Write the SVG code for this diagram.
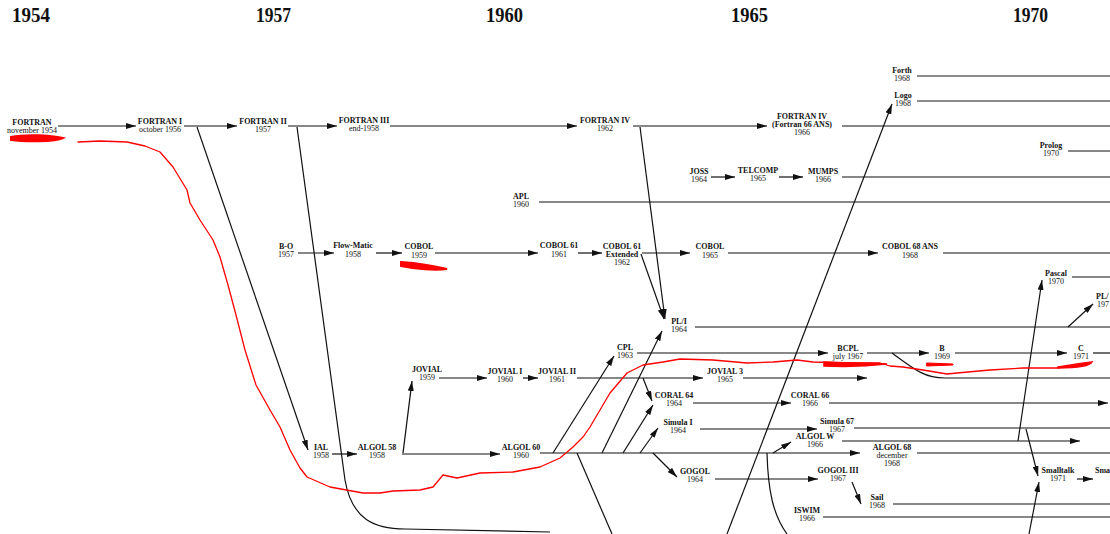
<svg xmlns="http://www.w3.org/2000/svg" width="1110" height="534" viewBox="0 0 1110 534">
<style>
text{font-family:"Liberation Serif","Times New Roman",serif;fill:#111;text-anchor:middle}
.n{font-size:8px;font-weight:bold}
.y{font-size:8px}
.h{font-size:20px;font-weight:bold;text-anchor:start}
.c line,.c path{stroke:#111;stroke-width:1.2;fill:none}
.c .a{marker-end:url(#ah)}
.c .g{stroke:#666;stroke-width:1.5}
.red{stroke:#ff0000;fill:none;stroke-width:1.3;stroke-linejoin:round;stroke-linecap:round}
.rb{fill:#ff0000;stroke:#ff0000;stroke-linecap:round}
</style>
<defs>
<marker id="ah" markerUnits="userSpaceOnUse" markerWidth="10" markerHeight="6" refX="10" refY="3" orient="auto">
<path d="M0,0 L10,3 L0,6 z" fill="#111"/>
</marker>
</defs>
<rect width="1110" height="534" fill="#fff"/>
<g id="years">
<text class="h" x="12" y="22" textLength="38" lengthAdjust="spacingAndGlyphs">1954</text>
<text class="h" x="256" y="22" textLength="35" lengthAdjust="spacingAndGlyphs">1957</text>
<text class="h" x="486" y="22" textLength="37" lengthAdjust="spacingAndGlyphs">1960</text>
<text class="h" x="731" y="22" textLength="37" lengthAdjust="spacingAndGlyphs">1965</text>
<text class="h" x="1013" y="22" textLength="35" lengthAdjust="spacingAndGlyphs">1970</text>
</g>
<g id="connectors" class="c">
<!-- FORTRAN row -->
<line class="a" x1="58" y1="126" x2="136" y2="126"/>
<line class="a" x1="184" y1="126" x2="237" y2="126"/>
<line class="a" x1="288" y1="126" x2="337" y2="126"/>
<line class="a" x1="390" y1="126" x2="577" y2="126"/>
<line class="a" x1="633" y1="126" x2="767" y2="126"/>
<line x1="842" y1="126" x2="1110" y2="126"/>
<line class="a" x1="197" y1="127" x2="308" y2="450"/>
<path d="M297,127 L345,480 C352,520 375,529 405,529 L550,532"/>
<line class="a" x1="640" y1="127" x2="665" y2="319"/>
<!-- COBOL row -->
<line class="a" x1="298" y1="253" x2="334" y2="253"/>
<line class="a" x1="376" y1="253" x2="402" y2="253"/>
<line class="a" x1="435" y1="253" x2="538" y2="253"/>
<line class="a" x1="578" y1="253" x2="602" y2="253"/>
<line class="a" x1="642" y1="253" x2="690" y2="253"/>
<line class="a" x1="728" y1="253" x2="878" y2="253"/>
<line x1="943" y1="253" x2="1110" y2="253"/>
<line class="a" x1="641" y1="254" x2="664" y2="319"/>
<!-- APL -->
<line x1="539" y1="202" x2="1110" y2="202"/>
<!-- JOSS row -->
<line class="a" x1="711" y1="177" x2="735" y2="177"/>
<line class="a" x1="779" y1="177" x2="803" y2="177"/>
<line x1="842" y1="177" x2="1110" y2="177"/>
<!-- Forth, Logo, Prolog -->
<line class="g" x1="917" y1="76" x2="1110" y2="76"/>
<line class="g" x1="917" y1="101" x2="1110" y2="101"/>
<line x1="1068" y1="151" x2="1110" y2="151"/>
<line class="a" x1="727" y1="534" x2="892" y2="104"/>
<!-- PL/I, Pascal -->
<line x1="695" y1="327" x2="1110" y2="327"/>
<line x1="1072" y1="277" x2="1110" y2="277"/>
<line class="a" x1="1018" y1="441" x2="1042" y2="280"/>
<line class="a" x1="1068" y1="327" x2="1093" y2="304"/>
<!-- CPL row -->
<line class="a" x1="637" y1="353" x2="828" y2="353"/>
<line class="a" x1="867" y1="353" x2="929" y2="353"/>
<line class="a" x1="955" y1="353" x2="1067" y2="353"/>
<line x1="1093" y1="353" x2="1110" y2="353"/>
<path d="M892,353 C915,370 925,378 945,378 L1110,378"/>
<!-- JOVIAL row -->
<line class="a" x1="439" y1="378" x2="487" y2="378"/>
<line class="a" x1="523" y1="378" x2="538" y2="378"/>
<line class="a" x1="577" y1="378" x2="703" y2="378"/>
<line class="a" x1="743" y1="378" x2="867" y2="378"/>
<line class="a" x1="643" y1="378" x2="652" y2="401"/>
<!-- ALGOL row -->
<line class="a" x1="332" y1="454" x2="357" y2="454"/>
<line class="a" x1="402" y1="454" x2="500" y2="454"/>
<line class="a" x1="403" y1="453" x2="412" y2="381"/>
<line class="a" x1="540" y1="453" x2="860" y2="453"/>
<line x1="917" y1="453" x2="1110" y2="453"/>
<line class="a" x1="553" y1="453" x2="614" y2="356"/>
<line class="a" x1="602" y1="453" x2="662" y2="331"/>
<line class="a" x1="623" y1="453" x2="653" y2="405"/>
<line class="a" x1="640" y1="453" x2="658" y2="428"/>
<line class="a" x1="653" y1="453" x2="677" y2="477"/>
<line class="a" x1="773" y1="453" x2="791" y2="442"/>
<line x1="577" y1="453" x2="612" y2="534"/>
<path d="M767,453 C768,490 773,515 787,534"/>
<!-- CORAL, Simula -->
<line class="a" x1="693" y1="403" x2="791" y2="403"/>
<line class="a" x1="829" y1="403" x2="1108" y2="403"/>
<line class="a" x1="700" y1="429" x2="817" y2="429"/>
<line x1="854" y1="428" x2="1110" y2="428"/>
<line class="a" x1="842" y1="441" x2="1080" y2="441"/>
<!-- GOGOL, Sail, ISWIM -->
<line class="a" x1="715" y1="479" x2="818" y2="479"/>
<line class="a" x1="852" y1="482" x2="861" y2="504"/>
<line x1="893" y1="504" x2="1110" y2="504"/>
<line x1="823" y1="517" x2="1110" y2="517"/>
<!-- Smalltalk -->
<line class="a" x1="1026" y1="429" x2="1038" y2="476"/>
<line class="a" x1="1029" y1="534" x2="1039" y2="482"/>
<line class="a" x1="1077" y1="479" x2="1093" y2="479"/>
</g>
<g id="FORTRAN"><text class="n" x="32" y="125">FORTRAN</text><text class="y" x="32" y="133">november 1954</text></g>
<g id="FORTRAN_I"><text class="n" x="160" y="124">FORTRAN I</text><text class="y" x="160" y="132">october 1956</text></g>
<g id="FORTRAN_II"><text class="n" x="263" y="124">FORTRAN II</text><text class="y" x="263" y="132">1957</text></g>
<g id="FORTRAN_III"><text class="n" x="364" y="123">FORTRAN III</text><text class="y" x="364" y="131">end-1958</text></g>
<g id="FORTRAN_IV"><text class="n" x="605" y="123">FORTRAN IV</text><text class="y" x="605" y="131">1962</text></g>
<g id="FORTRAN_66"><text class="n" x="802" y="119">FORTRAN IV</text><text class="n" x="802" y="127">(Fortran 66 ANS)</text><text class="y" x="802" y="135">1966</text></g>
<g id="Forth"><text class="n" x="902" y="73">Forth</text><text class="y" x="902" y="81">1968</text></g>
<g id="Logo"><text class="n" x="903" y="98">Logo</text><text class="y" x="903" y="106">1968</text></g>
<g id="Prolog"><text class="n" x="1051" y="148">Prolog</text><text class="y" x="1051" y="156">1970</text></g>
<g id="JOSS"><text class="n" x="699" y="174">JOSS</text><text class="y" x="699" y="182">1964</text></g>
<g id="TELCOMP"><text class="n" x="758" y="173">TELCOMP</text><text class="y" x="758" y="181">1965</text></g>
<g id="MUMPS"><text class="n" x="823" y="174">MUMPS</text><text class="y" x="823" y="182">1966</text></g>
<g id="APL"><text class="n" x="521" y="199">APL</text><text class="y" x="521" y="207">1960</text></g>
<g id="B-O"><text class="n" x="286" y="249">B-O</text><text class="y" x="286" y="257">1957</text></g>
<g id="Flow-Matic"><text class="n" x="353" y="248">Flow-Matic</text><text class="y" x="353" y="257">1958</text></g>
<g id="COBOL"><text class="n" x="419" y="249">COBOL</text><text class="y" x="419" y="258">1959</text></g>
<g id="COBOL_61"><text class="n" x="559" y="248">COBOL 61</text><text class="y" x="559" y="257">1961</text></g>
<g id="COBOL_61_Ext"><text class="n" x="622" y="249">COBOL 61</text><text class="n" x="622" y="257">Extended</text><text class="y" x="622" y="265">1962</text></g>
<g id="COBOL_1965"><text class="n" x="710" y="249">COBOL</text><text class="y" x="710" y="258">1965</text></g>
<g id="COBOL_68"><text class="n" x="910" y="249">COBOL 68 ANS</text><text class="y" x="910" y="258">1968</text></g>
<g id="Pascal"><text class="n" x="1056" y="276">Pascal</text><text class="y" x="1056" y="284">1970</text></g>
<g id="PLM"><text class="n" x="1096" y="299" style="text-anchor:start">PL/</text><text class="y" x="1097" y="307" style="text-anchor:start">197</text></g>
<g id="PLI"><text class="n" x="679" y="324">PL/I</text><text class="y" x="679" y="332">1964</text></g>
<g id="CPL"><text class="n" x="625" y="350">CPL</text><text class="y" x="625" y="358">1963</text></g>
<g id="BCPL"><text class="n" x="848" y="351">BCPL</text><text class="y" x="848" y="359">july 1967</text></g>
<g id="B"><text class="n" x="942" y="351">B</text><text class="y" x="942" y="359">1969</text></g>
<g id="C"><text class="n" x="1081" y="351">C</text><text class="y" x="1081" y="359">1971</text></g>
<g id="JOVIAL"><text class="n" x="427" y="372">JOVIAL</text><text class="y" x="427" y="380">1959</text></g>
<g id="JOVIAL_I"><text class="n" x="505" y="374">JOVIAL I</text><text class="y" x="505" y="382">1960</text></g>
<g id="JOVIAL_II"><text class="n" x="557" y="374">JOVIAL II</text><text class="y" x="557" y="382">1961</text></g>
<g id="JOVIAL_3"><text class="n" x="725" y="374">JOVIAL 3</text><text class="y" x="725" y="382">1965</text></g>
<g id="CORAL_64"><text class="n" x="674" y="398">CORAL 64</text><text class="y" x="674" y="406">1964</text></g>
<g id="CORAL_66"><text class="n" x="810" y="398">CORAL 66</text><text class="y" x="810" y="406">1966</text></g>
<g id="Simula_I"><text class="n" x="678" y="425">Simula I</text><text class="y" x="678" y="433">1964</text></g>
<g id="Simula_67"><text class="n" x="837" y="424">Simula 67</text><text class="y" x="837" y="432">1967</text></g>
<g id="ALGOL_W"><text class="n" x="815" y="439">ALGOL W</text><text class="y" x="815" y="447">1966</text></g>
<g id="IAL"><text class="n" x="321" y="450">IAL</text><text class="y" x="321" y="458">1958</text></g>
<g id="ALGOL_58"><text class="n" x="377" y="450">ALGOL 58</text><text class="y" x="377" y="458">1958</text></g>
<g id="ALGOL_60"><text class="n" x="521" y="450">ALGOL 60</text><text class="y" x="521" y="458">1960</text></g>
<g id="ALGOL_68"><text class="n" x="892" y="450">ALGOL 68</text><text class="y" x="892" y="458">december</text><text class="y" x="892" y="466">1968</text></g>
<g id="GOGOL"><text class="n" x="695" y="474">GOGOL</text><text class="y" x="695" y="482">1964</text></g>
<g id="GOGOL_III"><text class="n" x="838" y="473">GOGOL III</text><text class="y" x="838" y="481">1967</text></g>
<g id="Smalltalk"><text class="n" x="1058" y="473">Smalltalk</text><text class="y" x="1058" y="481">1971</text></g>
<g id="Sma"><text class="n" x="1095" y="473" style="text-anchor:start">Sma</text></g>
<g id="Sail"><text class="n" x="877" y="500">Sail</text><text class="y" x="877" y="508">1968</text></g>
<g id="ISWIM"><text class="n" x="807" y="513">ISWIM</text><text class="y" x="807" y="521">1966</text></g>
<g id="annotations">
<polyline class="red" points="78,142 100,141 127,142 145,146 160,152 173,167 187,190 190,203 200,220 213,240 220,257 228,285 236,315 245,350 256,385 270,410 280,427 290,450 300,468 307,477 330,487 363,493 380,493 393,491 420,490 433,487 443,475 457,478 480,473 513,472 540,467 560,458 573,447 583,437 590,427 600,410 610,393 627,373 643,365 663,362 680,359 713,360 747,363 773,362 797,360 813,362 847,363 880,363 890,366 903,367 923,370 947,374 957,373 990,370 1023,368 1057,368 1063,367"/>
<path class="rb" d="M11,137 C25,134 50,135 63,138 C55,142 25,142 11,140 Z" stroke-width="2"/>
<path class="rb" d="M401,262 C415,263 435,266 447,269 C435,271 415,269 401,266 Z" stroke-width="2"/>
<path class="rb" d="M824,362 C845,363 870,363 887,364 C870,366 845,367 824,366 Z" stroke-width="1.5"/>
<path class="rb" d="M927,363 L953,364 L953,365 L927,366 Z" stroke-width="1"/>
<path class="rb" d="M1058,367 C1070,365 1082,363 1092,362 C1090,366 1075,368 1058,368 Z" stroke-width="1.5"/>
</g>
</svg>
